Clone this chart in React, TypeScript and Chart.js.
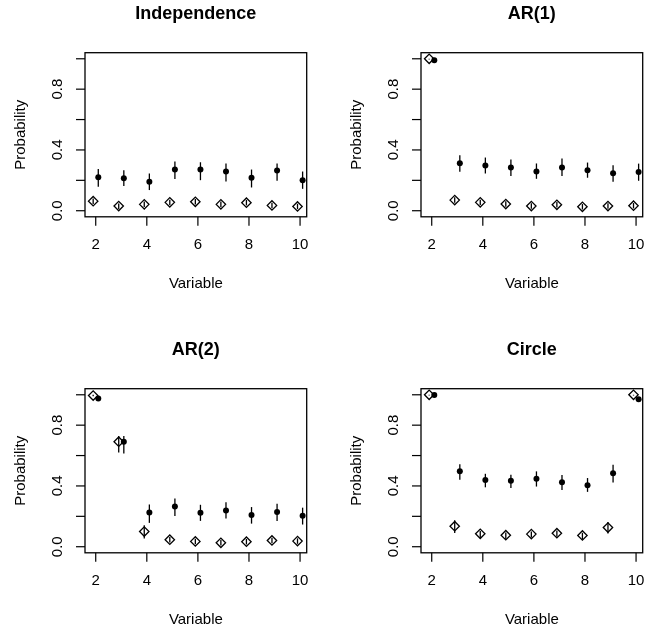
import React, { useEffect, useRef } from "react";
import { Chart, registerables } from "chart.js";

Chart.register(...registerables);

// ---------- data ----------
const variables = [2, 3, 4, 5, 6, 7, 8, 9, 10];
const xTicks = [2, 4, 6, 8, 10];
const xTickLabels = ["2", "4", "6", "8", "10"];
const yTicks = [0, 0.2, 0.4, 0.6, 0.8, 1.0];
const yLabelTicks = [0, 0.4, 0.8];
const yTickLabels = ["0.0", "0.4", "0.8"];
const panelTitles = ["Independence", "AR(1)", "AR(2)", "Circle"];
const xAxisTitle = "Variable";
const yAxisTitle = "Probability";

// Independence
const indepCircle = [0.221, 0.214, 0.19, 0.271, 0.271, 0.258, 0.217, 0.265, 0.201];
const indepCircleLo = [0.158, 0.162, 0.136, 0.208, 0.201, 0.193, 0.153, 0.197, 0.144];
const indepCircleHi = [0.274, 0.267, 0.245, 0.324, 0.319, 0.311, 0.271, 0.311, 0.258];
const indepDiamond = [0.063, 0.031, 0.042, 0.055, 0.059, 0.042, 0.053, 0.035, 0.028];
const indepDiamondLo = [0.045, 0.012, 0.024, 0.037, 0.041, 0.024, 0.035, 0.016, 0.01];
const indepDiamondHi = [0.08, 0.048, 0.06, 0.073, 0.077, 0.06, 0.071, 0.053, 0.046];

// AR(1)
const ar1Circle = [0.99, 0.313, 0.298, 0.284, 0.258, 0.284, 0.267, 0.247, 0.255];
const ar1CircleLo = [0.985, 0.256, 0.245, 0.228, 0.21, 0.228, 0.217, 0.19, 0.197];
const ar1CircleHi = [0.995, 0.365, 0.35, 0.337, 0.311, 0.344, 0.317, 0.3, 0.31];
const ar1Diamond = [1.0, 0.07, 0.055, 0.044, 0.031, 0.039, 0.026, 0.031, 0.033];
const ar1DiamondLo = [0.995, 0.052, 0.037, 0.026, 0.013, 0.021, 0.008, 0.013, 0.015];
const ar1DiamondHi = [1.0, 0.088, 0.073, 0.062, 0.049, 0.057, 0.044, 0.049, 0.051];

// AR(2)
const ar2Circle = [0.976, 0.691, 0.226, 0.265, 0.224, 0.239, 0.209, 0.228, 0.204];
const ar2CircleLo = [0.97, 0.613, 0.157, 0.202, 0.17, 0.185, 0.152, 0.17, 0.146];
const ar2CircleHi = [0.982, 0.728, 0.278, 0.317, 0.276, 0.293, 0.261, 0.283, 0.257];
const ar2Diamond = [0.995, 0.691, 0.1, 0.046, 0.035, 0.026, 0.033, 0.041, 0.037];
const ar2DiamondLo = [0.99, 0.62, 0.054, 0.028, 0.017, 0.008, 0.015, 0.023, 0.019];
const ar2DiamondHi = [1.0, 0.728, 0.141, 0.064, 0.053, 0.044, 0.051, 0.059, 0.055];

// Circle
const circCircle = [0.998, 0.496, 0.439, 0.435, 0.448, 0.424, 0.404, 0.483, 0.97];
const circCircleLo = [0.995, 0.441, 0.391, 0.387, 0.396, 0.374, 0.361, 0.422, 0.96];
const circCircleHi = [1.0, 0.543, 0.48, 0.474, 0.496, 0.472, 0.452, 0.539, 0.98];
const circDiamond = [1.0, 0.135, 0.085, 0.076, 0.083, 0.089, 0.074, 0.126, 1.0];
const circDiamondLo = [0.995, 0.091, 0.055, 0.05, 0.06, 0.065, 0.05, 0.087, 0.995];
const circDiamondHi = [1.0, 0.174, 0.103, 0.094, 0.101, 0.107, 0.092, 0.163, 1.0];

type Panel = {
  title: string;
  circle: number[];
  circleLo: number[];
  circleHi: number[];
  diamond: number[];
  diamondLo: number[];
  diamondHi: number[];
};

const panels: Panel[] = [
  { title: panelTitles[0], circle: indepCircle, circleLo: indepCircleLo, circleHi: indepCircleHi, diamond: indepDiamond, diamondLo: indepDiamondLo, diamondHi: indepDiamondHi },
  { title: panelTitles[1], circle: ar1Circle, circleLo: ar1CircleLo, circleHi: ar1CircleHi, diamond: ar1Diamond, diamondLo: ar1DiamondLo, diamondHi: ar1DiamondHi },
  { title: panelTitles[2], circle: ar2Circle, circleLo: ar2CircleLo, circleHi: ar2CircleHi, diamond: ar2Diamond, diamondLo: ar2DiamondLo, diamondHi: ar2DiamondHi },
  { title: panelTitles[3], circle: circCircle, circleLo: circCircleLo, circleHi: circCircleHi, diamond: circDiamond, diamondLo: circDiamondLo, diamondHi: circDiamondHi },
];

// ---------- style / layout ----------
const PANEL = 336;
const DIAMOND_OFFSET = -0.1;
const CIRCLE_OFFSET = 0.1;
const FONT = '"Liberation Sans", Arial, Helvetica, sans-serif';
const TEXT_SIZE = 15;
const TITLE_SIZE = 18;
const TICK_LEN = 9;

function makePlugin(p: Panel) {
  return {
    id: "rstyle",
    beforeDatasetsDraw(chart: any) {
      const ctx = chart.ctx;
      const xs = chart.scales.x;
      const ys = chart.scales.y;
      ctx.save();
      ctx.strokeStyle = "#000";
      ctx.lineWidth = 1.3;
      const bars = (lo: number[], hi: number[], off: number) => {
        variables.forEach((v, i) => {
          const px = xs.getPixelForValue(v + off);
          ctx.beginPath();
          ctx.moveTo(px, ys.getPixelForValue(lo[i]));
          ctx.lineTo(px, ys.getPixelForValue(hi[i]));
          ctx.stroke();
        });
      };
      bars(p.diamondLo, p.diamondHi, DIAMOND_OFFSET);
      bars(p.circleLo, p.circleHi, CIRCLE_OFFSET);
      ctx.restore();
    },
    afterDatasetsDraw(chart: any) {
      const ctx = chart.ctx;
      const xs = chart.scales.x;
      const ys = chart.scales.y;
      const a = chart.chartArea;
      ctx.save();
      ctx.strokeStyle = "#000";
      ctx.lineWidth = 1.3;
      ctx.strokeRect(a.left, a.top, a.right - a.left, a.bottom - a.top);

      ctx.lineWidth = 1.2;
      // x ticks
      xTicks.forEach((t) => {
        const px = xs.getPixelForValue(t);
        ctx.beginPath();
        ctx.moveTo(px, a.bottom);
        ctx.lineTo(px, a.bottom + TICK_LEN);
        ctx.stroke();
      });
      // y ticks
      yTicks.forEach((t) => {
        const py = ys.getPixelForValue(t);
        ctx.beginPath();
        ctx.moveTo(a.left - TICK_LEN, py);
        ctx.lineTo(a.left, py);
        ctx.stroke();
      });

      ctx.fillStyle = "#000";
      ctx.font = `${TEXT_SIZE}px ${FONT}`;
      ctx.textAlign = "center";
      ctx.textBaseline = "alphabetic";
      xTicks.forEach((t, i) => {
        ctx.fillText(xTickLabels[i], xs.getPixelForValue(t), a.bottom + 32.5);
      });
      yLabelTicks.forEach((t, i) => {
        ctx.save();
        ctx.translate(a.left - 23.3, ys.getPixelForValue(t));
        ctx.rotate(-Math.PI / 2);
        ctx.fillText(yTickLabels[i], 0, 0);
        ctx.restore();
      });
      const cx = (a.left + a.right) / 2;
      const cy = (a.top + a.bottom) / 2;
      ctx.fillText(xAxisTitle, cx, a.bottom + 71.5);
      ctx.save();
      ctx.translate(a.left - 60.3, cy);
      ctx.rotate(-Math.PI / 2);
      ctx.fillText(yAxisTitle, 0, 0);
      ctx.restore();

      ctx.font = `bold ${TITLE_SIZE}px ${FONT}`;
      ctx.fillText(p.title, cx, 18.5);
      ctx.restore();
    },
  };
}

function PanelChart({ panel, left, top }: { panel: Panel; left: number; top: number }) {
  const ref = useRef<HTMLCanvasElement | null>(null);
  useEffect(() => {
    if (!ref.current) return;
    const chart = new Chart(ref.current, {
      type: "scatter",
      data: {
        datasets: [
          {
            label: "circle",
            data: variables.map((v, i) => ({ x: v + CIRCLE_OFFSET, y: panel.circle[i] })),
            pointStyle: "circle",
            pointRadius: 3,
            pointBackgroundColor: "#000",
            pointBorderColor: "#000",
            pointBorderWidth: 0,
            showLine: false,
            clip: false,
          } as any,
          {
            label: "diamond",
            data: variables.map((v, i) => ({ x: v + DIAMOND_OFFSET, y: panel.diamond[i] })),
            pointStyle: "rectRot",
            pointRadius: 4.7,
            pointBackgroundColor: "rgba(0,0,0,0)",
            pointBorderColor: "#000",
            pointBorderWidth: 1.3,
            showLine: false,
            clip: false,
          } as any,
        ],
      },
      options: {
        responsive: false,
        animation: false,
        events: [],
        layout: { padding: { left: 85, top: 52.7, right: PANEL - 306.7, bottom: PANEL - 216.8 } },
        scales: {
          x: { type: "linear", min: 1.58, max: 10.26, display: false },
          y: { type: "linear", min: -0.04, max: 1.04, display: false },
        },
        plugins: { legend: { display: false }, tooltip: { enabled: false }, title: { display: false } },
      },
      plugins: [makePlugin(panel)],
    });
    return () => chart.destroy();
  }, [panel]);
  return (
    <canvas
      ref={ref}
      width={PANEL}
      height={PANEL}
      style={{ position: "absolute", left, top, width: PANEL, height: PANEL }}
    />
  );
}

export default function App() {
  return (
    <div
      style={{
        position: "fixed",
        left: 0,
        top: 0,
        width: 646,
        height: 633,
        overflow: "hidden",
        background: "#fff",
      }}
    >
      {panels.map((p, i) => (
        <PanelChart key={i} panel={p} left={(i % 2) * 335.7} top={Math.floor(i / 2) * 336} />
      ))}
    </div>
  );
}
